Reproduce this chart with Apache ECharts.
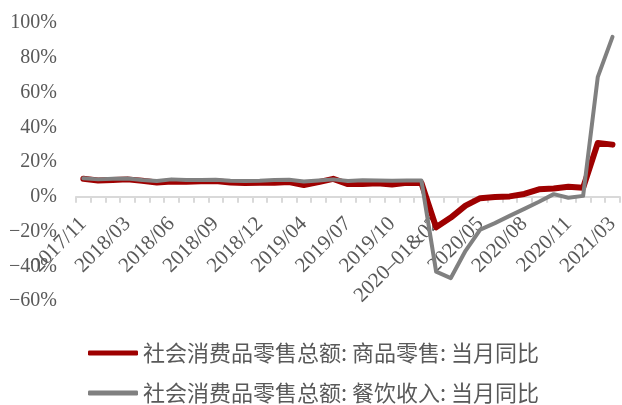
<!DOCTYPE html>
<html>
<head>
<meta charset="utf-8">
<script src="https://cdn.jsdelivr.net/npm/echarts@6/dist/echarts.min.js"></script>
<style>
html,body{margin:0;padding:0;background:#fff;}
#c{width:622px;height:405px;}
</style>
</head>
<body>
<div id="c"></div>
<script>
var categories = [
  '2017/11','2017/12',
  '2018/02','2018/03','2018/04','2018/05','2018/06','2018/07','2018/08','2018/09','2018/10','2018/11','2018/12',
  '2019/02','2019/03','2019/04','2019/05','2019/06','2019/07','2019/08','2019/09','2019/10','2019/11','2019/12',
  '2020\u201301&02','2020/03','2020/04','2020/05','2020/06','2020/07','2020/08','2020/09','2020/10','2020/11','2020/12',
  '2021/02','2021/03'
];
var goodsRetail = [
  10.3, 9.4,
  9.6, 10.0, 9.2, 8.2, 8.8, 8.6, 8.9, 9.0, 8.2, 7.9, 8.0,
  8.0, 8.5, 6.8, 8.4, 10.3, 7.3, 7.3, 7.7, 7.0, 8.0, 7.9,
  -17.6, -12.0, -5.1, -0.8, -0.2, 0.2, 1.6, 4.3, 4.7, 5.8, 5.2,
  31.0, 30.0
];
var cateringIncome = [
  10.6, 10.0,
  10.3, 10.5, 9.6, 9.1, 10.0, 9.6, 9.7, 9.8, 9.2, 9.0, 9.2,
  9.7, 9.8, 8.8, 9.4, 10.0, 9.1, 9.5, 9.4, 9.2, 9.4, 9.3,
  -43.1, -46.8, -31.1, -18.9, -15.2, -11.0, -7.0, -2.9, 1.5, -0.6, 0.5,
  69.0, 92.0
];
var seriesNames = ['社会消费品零售总额: 商品零售: 当月同比', '社会消费品零售总额: 餐饮收入: 当月同比'];
var yTicks = {min: -60, max: 100, interval: 20};

var gridTop = 23, gridBottom = 104, chartH = 405;
var gridH = chartH - gridTop - gridBottom;
// move the category axis up to the zero line of the value axis
var zeroOffset = -(0 - yTicks.min) / (yTicks.max - yTicks.min) * gridH;

var chart = echarts.init(document.getElementById('c'), null, {renderer: 'canvas'});
var serif = '"Liberation Serif", "Times New Roman", serif';
chart.setOption({
  animation: false,
  backgroundColor: '#ffffff',
  grid: {left: 76, right: -2, top: gridTop, bottom: gridBottom},
  legend: {
    orient: 'vertical',
    left: 83,
    top: 337,
    height: 90,
    itemWidth: 50,
    itemHeight: 5,
    itemGap: 18,
    icon: 'roundRect',
    data: seriesNames,
    textStyle: {
      fontFamily: '"Noto Sans CJK SC", sans-serif',
      fontSize: 22,
      lineHeight: 22,
      color: '#595959'
    }
  },
  xAxis: {
    type: 'category',
    data: categories,
    boundaryGap: true,
    offset: zeroOffset,
    axisLine: {onZero: false, lineStyle: {color: '#d9d9d9', width: 2}},
    axisTick: {show: true, interval: 0, length: 6, lineStyle: {color: '#d9d9d9', width: 2}},
    axisLabel: {
      interval: 2,
      rotate: 45,
      margin: 24,
      fontFamily: serif,
      fontSize: 21,
      color: '#595959'
    },
    splitLine: {show: false}
  },
  yAxis: {
    type: 'value',
    min: yTicks.min,
    max: yTicks.max,
    interval: yTicks.interval,
    axisLine: {show: false},
    axisTick: {show: false},
    splitLine: {show: false},
    axisLabel: {
      margin: 19,
      fontFamily: serif,
      fontSize: 20,
      color: '#595959',
      formatter: function (v) { return (v < 0 ? '\u2212' + (-v) : v) + '%'; }
    }
  },
  series: [
    {
      name: seriesNames[0],
      type: 'line',
      data: goodsRetail,
      color: '#9e0000',
      showSymbol: false,
      symbol: 'none',
      lineStyle: {color: '#9e0000', width: 6, join: 'round', cap: 'round'},
      z: 2
    },
    {
      name: seriesNames[1],
      type: 'line',
      data: cateringIncome,
      color: '#808080',
      showSymbol: false,
      symbol: 'none',
      lineStyle: {color: '#808080', width: 4, join: 'round', cap: 'round'},
      z: 3
    }
  ]
});
</script>
</body>
</html>
